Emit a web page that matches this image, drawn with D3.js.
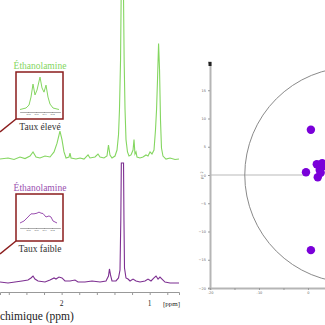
<!DOCTYPE html>
<html><head><meta charset="utf-8">
<script src="https://cdn.jsdelivr.net/npm/d3@7"></script>
<style>html,body{margin:0;padding:0;background:#fff;overflow:hidden}svg{display:block}</style>
</head><body><svg id="c" width="325" height="325"></svg>
<script>
// ---- Spectrum data (chemical shift in ppm, relative intensity) ----
const greenShift = [2.700,2.609,2.541,2.473,2.416,2.359,2.325,2.291,2.246,2.189,2.132,2.086,2.052,2.019,1.996,1.973,1.950,1.916,1.905,1.893,1.837,1.791,1.746,1.700,1.678,1.621,1.587,1.564,1.519,1.485,1.468,1.451,1.428,1.394,1.371,1.354,1.343,1.331,1.322,1.299,1.290,1.280,1.269,1.252,1.235,1.212,1.189,1.178,1.167,1.155,1.144,1.110,1.076,1.042,1.019,0.996,0.974,0.951,0.934,0.922,0.911,0.899,0.888,0.877,0.866,0.849,0.815,0.769,0.712,0.667];
const greenIntensity = [0.8,1.7,0.4,2.5,1.2,3.3,6.7,2.5,1.7,3.3,2.5,6.7,14,24,17,6.7,1.7,2.5,5.8,1.7,0.8,1.7,0.8,4.2,1.7,2.5,5,2.5,1.7,3.3,12.5,4.2,1.7,3.3,8.3,21,42,83,150,150,83,42,17,6.7,3.3,4.2,8.3,17,5,6.7,2.5,1.7,2.5,4.2,3.3,6.7,5,8.3,25,42,67,97,75,33,10,3.3,0.8,1.7,0.4,0.8];
const purpleShift = [2.700,2.609,2.530,2.450,2.382,2.348,2.325,2.303,2.268,2.189,2.132,2.086,2.064,2.030,1.996,1.962,1.905,1.848,1.814,1.735,1.655,1.564,1.496,1.468,1.457,1.445,1.428,1.383,1.354,1.337,1.328,1.322,1.297,1.292,1.286,1.269,1.246,1.223,1.189,1.155,1.110,1.053,1.019,0.985,0.951,0.928,0.905,0.883,0.860,0.826,0.769,0.667];
const purpleIntensity = [0.8,0,0.8,1.7,2.5,4.2,5.8,3.3,1.7,0.8,2.5,4.2,3.3,5,4.2,1.7,1.7,2.5,0.8,0.8,1.7,0.8,1.7,5.8,11.7,6.7,1.7,1.7,4.2,10.8,52,100,100,52,12.5,4.2,3.3,1.7,3.3,1.7,0.8,1.7,3.3,1.7,4.2,5.8,3.3,5,3.3,0.8,0,0];
// ethanolamine insets
const insetHighShift = [3.200,3.185,3.1775,3.1725,3.1675,3.1625,3.1575,3.150,3.145,3.140,3.135,3.130,3.125,3.1175,3.1025];
const insetHighIntensity = [1.4,5.7,14,37,74,43,57,94,63,51,71,37,17,5.7,1.4];
const insetLowShift = [3.200,3.190,3.180,3.1725,3.165,3.1575,3.1525,3.1475,3.1425,3.135,3.1275,3.1225,3.1175,3.1075];
const insetLowIntensity = [2.9,8.6,20,29,29,31,34,31,30,20,23,20,8.6,2.9];
const shiftTicks = [2.6,2.4,2.2,2.0,1.8,1.6,1.4,1.2,1.0,0.8];
const shiftLabels = [2,1];
const insetTicks = [3.18,3.16,3.14,3.12];
// ---- Loadings plot ----
const loadX = [0.6,-0.4,0.6,1.8,2.9,2.4,2.0,2.6,3.4];
const loadY = [8.0,0.5,-13.3,1.9,2.1,0.9,-0.4,0.4,1.6];
const pcYTicks = [-20,-15,-10,-5,0,5,10,15];
const pcXTicks = [-20,-15,-10,-5,0];
const pcXLabels = [-20,-10,0];
const circleCenter = [9.1,0], circleRadius = 22;

const svg = d3.select('#c');
const GREEN = '#84d660', PURPLE = '#7d2f91', BOX = '#8b1d1d';
const serif = 'Liberation Serif, serif';

// left panel scales
const xL = d3.scaleLinear().domain([2.7, 0.667]).range([0, 179]);
const yG = d3.scaleLinear().domain([0, 100]).range([160, 40]);
const yP = d3.scaleLinear().domain([0, 100]).range([283, 163]);

const lineG = d3.line().x((d,i)=>xL(greenShift[i])).y((d,i)=>yG(greenIntensity[i]));
const lineP = d3.line().x((d,i)=>xL(purpleShift[i])).y((d,i)=>yP(purpleIntensity[i]));
svg.append('path').attr('d', lineP(purpleShift)).attr('fill','none').attr('stroke',PURPLE).attr('stroke-width',1.1);
svg.append('path').attr('d', lineG(greenShift)).attr('fill','none').attr('stroke',GREEN).attr('stroke-width',1.1);

// bottom axis of spectra
const axL = svg.append('g').attr('transform','translate(0,292)')
  .call(d3.axisBottom(xL).tickValues(shiftTicks).tickSize(3).tickFormat(''));
axL.select('.domain').attr('stroke','#999');
axL.selectAll('.tick line').attr('stroke','#999');
svg.selectAll('.shl').data(shiftLabels).enter().append('text')
  .attr('x', d=>xL(d)).attr('y', 306).attr('text-anchor','middle')
  .attr('font-family',serif).attr('font-size',7.5).attr('fill','#222').text(d=>d);
svg.append('text').attr('x',163).attr('y',306).attr('font-family',serif).attr('font-size',7)
  .attr('fill','#222').text('[ppm]');
svg.append('text').attr('x',0).attr('y',320).attr('font-family',serif)
  .attr('font-size',11.5).attr('fill','#222').text('chimique (ppm)');

// insets
function inset(top, shifts, ints, color, title, caption, baseY, axisY) {
  const xi = d3.scaleLinear().domain([3.20, 3.10]).range([20, 60]);
  const yi = d3.scaleLinear().domain([0, 100]).range([baseY, baseY - 35]);
  svg.append('line').attr('x1',16).attr('y1',top+47).attr('x2',0).attr('y2',top+60)
    .attr('stroke',BOX).attr('stroke-width',1.5);
  svg.append('rect').attr('x',16).attr('y',top).attr('width',47).attr('height',47)
    .attr('fill','#fff').attr('stroke',BOX).attr('stroke-width',1.5);
  const g = svg.append('g').attr('transform',`translate(0,${axisY})`)
    .call(d3.axisBottom(xi).tickValues(insetTicks).tickSize(1).tickPadding(0.5).tickFormat(d3.format('.2f')));
  g.select('.domain').attr('stroke','#777').attr('stroke-width',0.6);
  g.selectAll('.tick line').attr('stroke','#777').attr('stroke-width',0.5);
  g.selectAll('.tick text').attr('font-size',2.2).attr('fill','#555');
  svg.append('path').attr('d', d3.line().x((d,i)=>xi(shifts[i])).y((d,i)=>yi(ints[i]))(shifts))
    .attr('fill','none').attr('stroke',color).attr('stroke-width',1);
  svg.append('text').attr('x',40).attr('y',top-3).attr('text-anchor','middle')
    .attr('font-family',serif).attr('font-size',9.5).attr('fill',color).text(title);
  svg.append('text').attr('x',40).attr('y',top+58).attr('text-anchor','middle')
    .attr('font-family',serif).attr('font-size',9.5).attr('fill','#333').text(caption);
}
inset(72, insetHighShift, insetHighIntensity, GREEN, 'Éthanolamine', 'Taux élevé', 110, 112);
inset(194, insetLowShift, insetLowIntensity, '#9a4fb0', 'Éthanolamine', 'Taux faible', 224, 228);

// ---- right panel ----
const xR = d3.scaleLinear().domain([-20, 4.5]).range([210, 330]);
const yR = d3.scaleLinear().domain([-20, 20]).range([288, 62]);

svg.append('line').attr('x1',xR(-20)).attr('x2',xR(-0.7)).attr('y1',yR(0)).attr('y2',yR(0))
  .attr('stroke','#d0d0d0').attr('stroke-width',1.6);
svg.append('circle').attr('cx',xR(circleCenter[0])).attr('cy',yR(circleCenter[1]))
  .attr('r',xR(circleRadius)-xR(0)).attr('fill','none').attr('stroke','#8a8a8a').attr('stroke-width',1);

const ay = svg.append('g').attr('transform',`translate(${xR(-20)},0)`)
  .call(d3.axisLeft(yR).tickValues(pcYTicks).tickSize(2).tickPadding(2));
ay.select('.domain').attr('stroke','#b5b5b5').attr('stroke-width',2);
ay.selectAll('.tick line').attr('stroke','#999');
ay.selectAll('.tick text').attr('font-size',3.5).attr('fill','#666').attr('font-family','DejaVu Sans');
svg.append('rect').attr('x',xR(-20)-1.5).attr('y',yR(20)).attr('width',3).attr('height',4).attr('fill','#222');

const ax = svg.append('g').attr('transform',`translate(0,${yR(-20)})`)
  .call(d3.axisBottom(xR).tickValues(pcXTicks).tickSize(2).tickPadding(2)
    .tickFormat(d=>pcXLabels.includes(d)?d:''));
ax.select('.domain').attr('stroke','#b5b5b5').attr('stroke-width',2);
ax.selectAll('.tick line').attr('stroke','#999');
ax.selectAll('.tick text').attr('font-size',3.5).attr('fill','#666').attr('font-family','DejaVu Sans');

svg.append('text').attr('transform',`translate(203,${yR(0)}) rotate(-90)`).attr('text-anchor','middle')
  .attr('font-size',3.5).attr('fill','#666').attr('font-family','DejaVu Sans').text('pc 2');

svg.selectAll('.pt').data(loadX).enter().append('circle')
  .attr('cx',(d,i)=>xR(loadX[i])).attr('cy',(d,i)=>yR(loadY[i])).attr('r',4.2).attr('fill','#7a00d9');
</script></body></html>
